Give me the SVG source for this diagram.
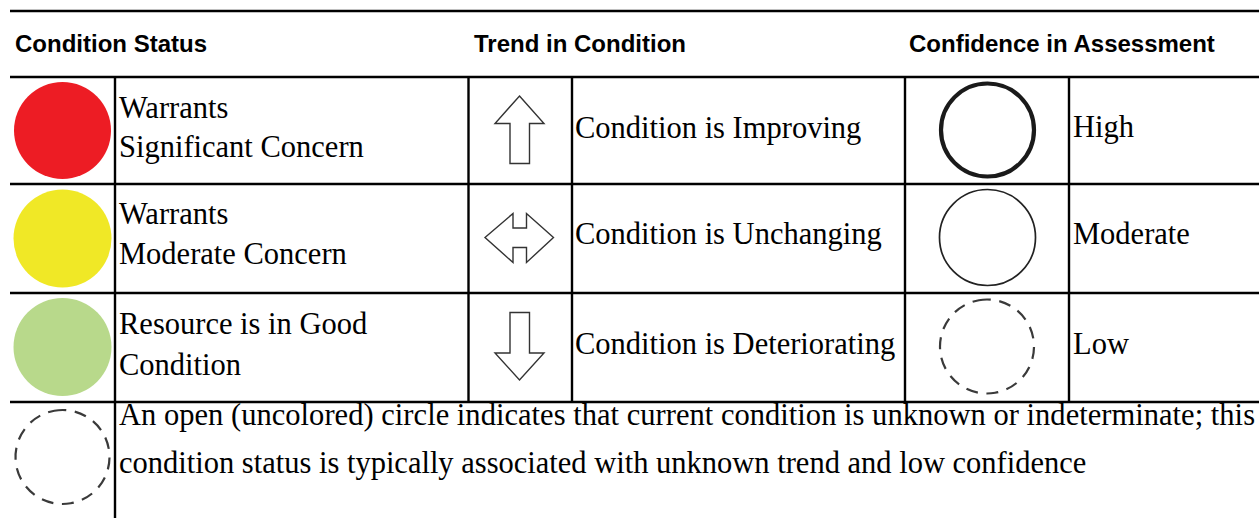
<svg xmlns="http://www.w3.org/2000/svg" width="1259" height="518" viewBox="0 0 1259 518">
<style>
.hdr{font-family:"Liberation Sans",Arial,sans-serif;font-weight:bold;font-size:24px;fill:#000}
.t{font-family:"Liberation Serif","Times New Roman",serif;font-size:30.5px;fill:#000}
.grid{stroke:#000;stroke-width:2.4;fill:none}
.arrow{fill:#fff;stroke:#333;stroke-width:1.4;stroke-linejoin:miter}
.dash{fill:none;stroke:#3a3a3a;stroke-width:2.2;stroke-dasharray:12 8.6}
</style>
<rect width="1259" height="518" fill="#fff"/>
<g id="grid">
<line class="grid" x1="10" y1="11" x2="1259" y2="11"/>
<line class="grid" x1="10" y1="77" x2="1259" y2="77"/>
<line class="grid" x1="10" y1="184" x2="1259" y2="184"/>
<line class="grid" x1="10" y1="293" x2="1259" y2="293"/>
<line class="grid" x1="10" y1="402" x2="1259" y2="402"/>
<line class="grid" x1="115" y1="77" x2="115" y2="518"/>
<line class="grid" x1="468.5" y1="77" x2="468.5" y2="402"/>
<line class="grid" x1="572" y1="77" x2="572" y2="402"/>
<line class="grid" x1="905" y1="77" x2="905" y2="402"/>
<line class="grid" x1="1069" y1="77" x2="1069" y2="402"/>
</g>
<g id="headers">
<text class="hdr" x="15" y="52">Condition Status</text>
<text class="hdr" x="474" y="52">Trend in Condition</text>
<text class="hdr" x="909" y="52">Confidence in Assessment</text>
</g>
<g id="status-red">
<circle cx="62.5" cy="130.5" r="48.5" fill="#ED1C24"/>
<text class="t" x="119" y="118">Warrants</text>
<text class="t" x="119" y="157">Significant Concern</text>
</g>
<g id="status-yellow">
<circle cx="62.5" cy="238.5" r="49" fill="#F0E826"/>
<text class="t" x="119" y="224">Warrants</text>
<text class="t" x="119" y="264">Moderate Concern</text>
</g>
<g id="status-green">
<circle cx="62.5" cy="347" r="49" fill="#B8D98B"/>
<text class="t" x="119" y="334">Resource is in Good</text>
<text class="t" x="119" y="375">Condition</text>
</g>
<g id="trend-up">
<path class="arrow" d="M519.5,96 L544,123.5 L529.5,123.5 L529.5,163.5 L510,163.5 L510,123.5 L495,123.5 Z"/>
<text class="t" x="575" y="138">Condition is Improving</text>
</g>
<g id="trend-unchanging">
<path class="arrow" d="M485,237.5 L513,213.5 L513,228 L526.5,228 L526.5,213.5 L553.5,237.5 L526.5,262.5 L526.5,247.5 L513,247.5 L513,262.5 Z"/>
<text class="t" x="575" y="244">Condition is Unchanging</text>
</g>
<g id="trend-down">
<path class="arrow" d="M510,312.5 L529.5,312.5 L529.5,353 L544,353 L519.5,380 L495,353 L510,353 Z"/>
<text class="t" x="575" y="354">Condition is Deteriorating</text>
</g>
<g id="conf-high">
<circle cx="987.5" cy="130" r="46.5" fill="none" stroke="#1a1a1a" stroke-width="4.2"/>
<text class="t" x="1073" y="137">High</text>
</g>
<g id="conf-moderate">
<circle cx="987.5" cy="237.5" r="48" fill="none" stroke="#222" stroke-width="1.7"/>
<text class="t" x="1073" y="244">Moderate</text>
</g>
<g id="conf-low">
<circle class="dash" cx="987" cy="346.5" r="47" transform="rotate(-100 987 346.5)"/>
<text class="t" x="1073" y="354">Low</text>
</g>
<g id="status-unknown">
<circle class="dash" cx="62.5" cy="457" r="47" transform="rotate(-100 62.5 457)"/>
<text class="t" x="119" y="425" textLength="1136" lengthAdjust="spacing">An open (uncolored) circle indicates that current condition is unknown or indeterminate; this</text>
<text class="t" x="119" y="473">condition status is typically associated with unknown trend and low confidence</text>
</g>
</svg>
